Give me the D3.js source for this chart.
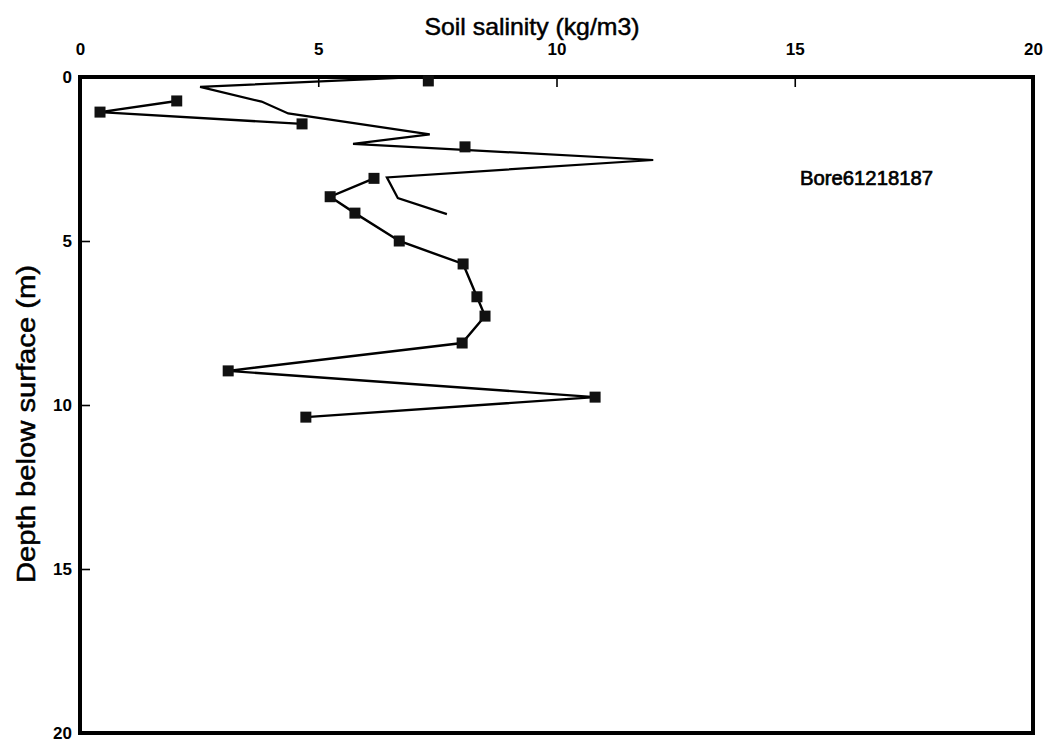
<!DOCTYPE html>
<html>
<head>
<meta charset="utf-8">
<script src="https://cdn.jsdelivr.net/npm/d3@7"></script>
<style>
  html, body { margin: 0; padding: 0; background: #fff; }
  svg { display: block; }
  text { font-family: "Liberation Sans", Arial, Helvetica, sans-serif; fill: #000; }
</style>
</head>
<body>
<svg id="chart" width="1050" height="745"></svg>
<script>
// Salinity profile, Bore61218187: sampled points (with square markers)
const sampleSalinity = [7.31, 2.03, 0.42, 4.66, 8.08, 6.17, 5.25, 5.77, 6.70, 8.04, 8.33, 8.50, 8.02, 3.11, 10.81, 4.74];
const sampleDepth    = [0.12, 0.73, 1.07, 1.43, 2.13, 3.09, 3.65, 4.15, 5.00, 5.70, 6.70, 7.29, 8.11, 8.96, 9.76, 10.37];
// connected runs of the sampled points
const sampleRun      = [0, 1, 1, 1, 2, 3, 3, 3, 3, 3, 3, 3, 3, 3, 3, 3];

// Continuous trace (no markers)
const traceSalinity = [6.8, 2.52, 3.81, 4.37, 7.34, 5.73, 12.03, 6.44, 6.67, 7.70];
const traceDepth    = [0.02, 0.30, 0.75, 1.11, 1.75, 2.04, 2.53, 3.06, 3.69, 4.18];

const xTicks = [0, 5, 10, 15, 20];
const yTicks = [0, 5, 10, 15, 20];
const boreLabel = "Bore61218187";

const svg = d3.select("#chart");
const plotLeft = 80, plotRight = 1033, plotTop = 77, plotBottom = 733;

const x = d3.scaleLinear().domain([0, 20]).range([plotLeft, plotRight]);
const y = d3.scaleLinear().domain([0, 20]).range([plotTop, plotBottom]);

// axes: ticks point into the plot
const xAxis = d3.axisTop(x).tickValues(xTicks).tickSizeInner(-10).tickSizeOuter(0).tickPadding(22).tickFormat(d3.format("d"));
const yAxis = d3.axisLeft(y).tickValues(yTicks).tickSizeInner(-10).tickSizeOuter(0).tickPadding(8).tickFormat(d3.format("d"));

const gx = svg.append("g").attr("transform", `translate(0,${plotTop})`).call(xAxis);
const gy = svg.append("g").attr("transform", `translate(${plotLeft},0)`).call(yAxis);
[gx, gy].forEach(g => {
  g.select(".domain").remove();
  g.selectAll(".tick line").attr("stroke", "#000").attr("stroke-width", 1.6);
  g.selectAll(".tick text")
    .attr("fill", "#000")
    .style("font-size", "17px")
    .style("font-weight", "bold")
    .style("font-family", "'Liberation Sans', Arial, sans-serif");
});

// plot frame
svg.append("rect")
  .attr("x", plotLeft).attr("y", plotTop)
  .attr("width", plotRight - plotLeft).attr("height", plotBottom - plotTop)
  .attr("fill", "none").attr("stroke", "#000").attr("stroke-width", 4);

const line = d3.line().x(d => x(d.s)).y(d => y(d.d));

// continuous trace
const trace = traceSalinity.map((s, i) => ({ s, d: traceDepth[i] }));
svg.append("path")
  .datum(trace)
  .attr("d", line)
  .attr("fill", "none").attr("stroke", "#000").attr("stroke-width", 2.2)
  .attr("stroke-linejoin", "miter");

// sampled points, connected within each run
const samples = sampleSalinity.map((s, i) => ({ s, d: sampleDepth[i], run: sampleRun[i] }));
const runs = d3.groups(samples, d => d.run).map(r => r[1]).filter(r => r.length > 1);
svg.append("g").selectAll("path")
  .data(runs)
  .join("path")
  .attr("d", line)
  .attr("fill", "none").attr("stroke", "#000").attr("stroke-width", 2.4);

const m = 11;
svg.append("g").selectAll("rect")
  .data(samples)
  .join("rect")
  .attr("x", d => x(d.s) - m / 2)
  .attr("y", d => y(d.d) - m / 2)
  .attr("width", m).attr("height", m)
  .attr("fill", "#111");

// titles
svg.append("text")
  .attr("x", 532).attr("y", 35)
  .attr("text-anchor", "middle")
  .attr("textLength", 215).attr("lengthAdjust", "spacingAndGlyphs")
  .attr("stroke", "#000").attr("stroke-width", 0.5)
  .style("font-size", "24px")
  .text("Soil salinity (kg/m3)");

svg.append("text")
  .attr("transform", "translate(35,424) rotate(-90)")
  .attr("text-anchor", "middle")
  .attr("textLength", 318).attr("lengthAdjust", "spacingAndGlyphs")
  .attr("stroke", "#000").attr("stroke-width", 0.5)
  .style("font-size", "25px")
  .text("Depth below surface (m)");

svg.append("text")
  .attr("x", 800).attr("y", 185)
  .attr("textLength", 133).attr("lengthAdjust", "spacingAndGlyphs")
  .attr("stroke", "#000").attr("stroke-width", 0.7)
  .style("font-size", "21px")
  .text(boreLabel);
</script>
</body>
</html>
